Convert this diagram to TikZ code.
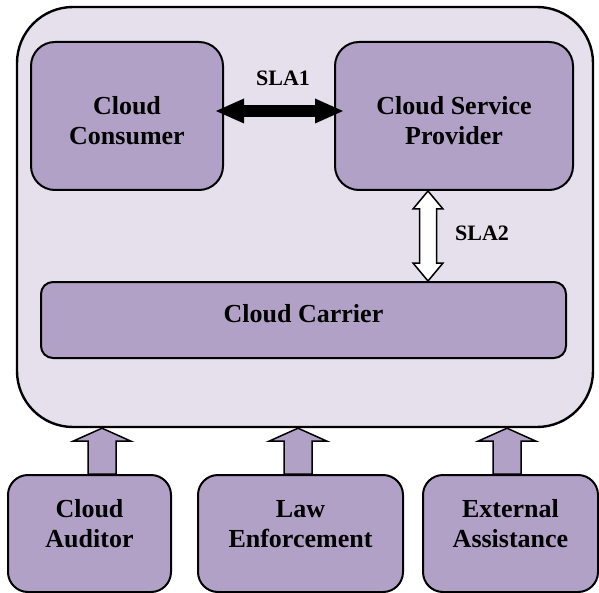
\documentclass[tikz,border=0pt]{standalone}
\usepackage{fontspec}
\setmainfont{Liberation Serif}[BoldFont={Liberation Serif Bold}]
\usetikzlibrary{arrows.meta,calc}
\definecolor{boxfill}{HTML}{B2A1C7}
\definecolor{outerfill}{HTML}{E5E0EC}
% wide arrow pointing up, from #1 to #2
\newcommand{\fatuparrow}[2]{%
\draw[fatarrow] let \p1=(#1), \p2=(#2) in
  (\x1-7pt,\y1) -- (\x1-7pt,\y2-6.5pt) -- (\x1-14.5pt,\y2-6.5pt) -- (\x1,\y2)
  -- (\x1+14.5pt,\y2-6.5pt) -- (\x1+7pt,\y2-6.5pt) -- (\x1+7pt,\y1) -- cycle;}
% wide arrow with two heads, from #1 (top) to #2 (bottom)
\newcommand{\fatudarrow}[2]{%
\draw[fatarrow,fill=white] let \p1=(#1), \p2=(#2) in
  (\x1,\y1) -- (\x1+7.5pt,\y1-9pt) -- (\x1+4.25pt,\y1-9pt) -- (\x1+4.25pt,\y2+9pt)
  -- (\x1+7.5pt,\y2+9pt) -- (\x1,\y2) -- (\x1-7.5pt,\y2+9pt) -- (\x1-4.25pt,\y2+9pt)
  -- (\x1-4.25pt,\y1-9pt) -- (\x1-7.5pt,\y1-9pt) -- cycle;}
\begin{document}
\begin{tikzpicture}[x=0.5pt,y=-0.5pt,line join=round,
  box/.style={draw,fill=boxfill,line width=1pt,rounded corners=12pt,inner sep=0pt,
    align=center,font=\fontsize{13}{15}\selectfont\bfseries},
  topbox/.style={box,minimum width=#1,minimum height=74pt,text height=28.8pt},
  lowbox/.style={box,rounded corners=10pt,minimum width=#1,minimum height=58.5pt,text depth=10pt},
  fatarrow/.style={draw,fill=boxfill,line width=0.75pt,line join=miter},
  slalabel/.style={inner sep=0pt,font=\fontsize{11}{13}\selectfont\bfseries}]
\useasboundingbox (0,0) rectangle (599,593);
% outer frame
\node[draw,fill=outerfill,line width=1.2pt,rounded corners=28pt,minimum width=288pt,minimum height=210pt] (frame) at (305,217) {};
\node[topbox=96pt] (consumer) at (127,116) {Cloud\\Consumer};
\node[topbox=119pt] (provider) at (454,116) {Cloud Service\\Provider};
\node[box,rounded corners=6pt,minimum width=262.5pt,minimum height=38pt,text depth=7pt] (carrier) at (303.5,320) {Cloud Carrier};
% roles outside
\node[lowbox=81.5pt] (auditor) at (89.5,533.5) {Cloud\\Auditor};
\node[lowbox=102.5pt] (law) at (300.5,533.5) {Law\\Enforcement};
\node[lowbox=87.5pt] (assist) at (510.5,533.5) {External\\Assistance};
% SLA arrows
\draw[line width=6pt,{Triangle[length=14pt,width=12.5pt,line width=0pt]}-{Triangle[length=14pt,width=12.5pt,line width=0pt]}]
  ([xshift=-4pt,yshift=2.5pt]consumer.east) -- ([xshift=4.5pt,yshift=2.5pt]provider.west)
  node[slalabel,midway,xshift=1.75pt,yshift=16.5pt] (sla1) {SLA1};
\coordinate (s2) at ([xshift=-13pt]provider.south);
\fatudarrow{s2}{s2 |- carrier.north}
\node[slalabel] (sla2) at (482,233) {SLA2};
% arrows into the frame
\coordinate (u1) at ([xshift=6.25pt]auditor.north);
\coordinate (u2) at ([xshift=-1.25pt]law.north);
\coordinate (u3) at ([xshift=-1.75pt]assist.north);
\fatuparrow{u1}{u1 |- frame.south}
\fatuparrow{u2}{u2 |- frame.south}
\fatuparrow{u3}{u3 |- frame.south}
\end{tikzpicture}
\end{document}
